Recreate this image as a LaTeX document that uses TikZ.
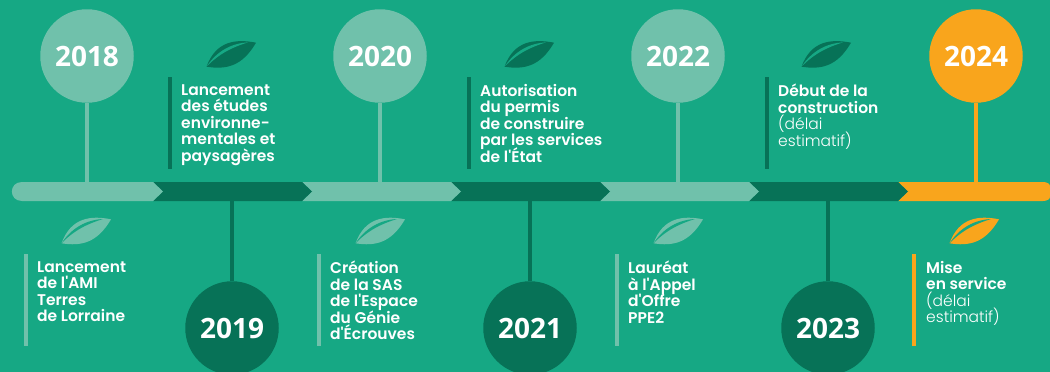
\documentclass[tikz,border=0pt]{standalone}
\usepackage{fontspec}
\setmainfont{Poppins}
\newfontfamily\semib{Poppins SemiBold}
\newfontfamily\lightf{Poppins Light}
\newfontfamily\yearf{Open Sans}
\definecolor{bgc}{HTML}{16A884}
\definecolor{darkc}{HTML}{077257}
\definecolor{lightc}{HTML}{70C1AB}
\definecolor{orangec}{HTML}{F9A51C}
\newcommand{\lt}[1]{{\lightf #1}}
\newcommand{\lablfont}{\semib\fontsize{15.5}{16.5}\selectfont\lineskiplimit=-20pt\relax}
\tikzset{
  x=1pt,y=-1pt,
  year/.style={circle,minimum size=93.5pt,inner sep=0,text=white,font=\yearf\bfseries\fontsize{28}{32}\selectfont},
  stem/.style={line width=4pt},
  label/.style={anchor=north west,inner sep=0,text=white,align=left,font=\lablfont},
  rule/.style={line width=4pt},
  pics/leaf/.style={code={
    \fill[#1] (0,0) .. controls (-20,-4) and (-40,-2) .. (-49.5,24)
      .. controls (-30,27) and (-14,24) .. (0,0) -- cycle;
    \fill[bgc] (-49.5,24) .. controls (-39,8) and (-24,0.5) .. (-8,-0.3)
      .. controls (-22,4) and (-36,10) .. (-49.5,24) -- cycle;
  }}
}
\begin{document}
\begin{tikzpicture}
\useasboundingbox (0,0) rectangle (1050,372);
\fill[bgc] (0,0) rectangle (1050,372);
% bar
\fill[orangec] (898,182) -- (1043,182) .. controls (1047,182) and (1050,184) .. (1050,186) -- (1050,197) .. controls (1050,199) and (1047,201) .. (1043,201) -- (898,201) -- (908,191.5) -- cycle;
\foreach \a/\b/\c in {749/898/darkc,600/749/lightc,451/600/darkc,302/451/lightc,153/302/darkc}{
  \fill[\c] (\a,182) -- (\b,182) -- (\b+10,191.5) -- (\b,201) -- (\a,201) -- (\a+10,191.5) -- cycle;
}
\fill[lightc] (22,182) -- (153,182) -- (163,191.5) -- (153,201) -- (22,201) .. controls (8.5,201) and (8.5,182) .. (22,182) -- cycle;
\coordinate (bartop) at (0,183);
\coordinate (barbot) at (0,200);
% circles
\node[year,fill=lightc] (y18) at (87,56) {2018};
\node[year,fill=darkc]  (y19) at (232,328) {2019};
\node[year,fill=lightc] (y20) at (380,56) {2020};
\node[year,fill=darkc]  (y21) at (530,328) {2021};
\node[year,fill=lightc] (y22) at (678,56) {2022};
\node[year,fill=darkc]  (y23) at (828,328) {2023};
\node[year,fill=orangec] (y24) at (976,56) {2024};
% stems
\draw[stem,lightc] (y18.south) -- (y18.south |- bartop);
\draw[stem,lightc] (y20.south) -- (y20.south |- bartop);
\draw[stem,lightc] (y22.south) -- (y22.south |- bartop);
\draw[stem,orangec] (y24.south) -- (y24.south |- bartop);
\draw[stem,darkc] (y19.north) -- (y19.north |- barbot);
\draw[stem,darkc] (y21.north) -- (y21.north |- barbot);
\draw[stem,darkc] (y23.north) -- (y23.north |- barbot);
% leaves
\pic at (111,219.3) {leaf=lightc};
\pic at (405,219.3) {leaf=lightc};
\pic at (703,219.3) {leaf=lightc};
\pic at (999,219.3) {leaf=orangec};
\pic at (256,42.7) {leaf=darkc};
\pic at (554,42.7) {leaf=darkc};
\pic at (851,42.7) {leaf=darkc};
% rules
\draw[rule,darkc] (170,77) -- (170,169);
\draw[rule,darkc] (469,77) -- (469,169);
\draw[rule,darkc] (767,77) -- (767,169);
\draw[rule,lightc] (26,254) -- (26,346);
\draw[rule,lightc] (319,254) -- (319,346);
\draw[rule,lightc] (617,254) -- (617,346);
\draw[rule,orangec] (914,254) -- (914,346);
% labels
\node[label] (t1) at (181,84) {Lancement\\des études\\environne-\\mentales et\\paysagères};
\node[label] (t2) at (480,84) {Autorisation\\du permis\\de construire\\par les services\\de l'État};
\node[label] (t3) at (778,84) {Début de la\\construction\\\lt{(délai}\\\lt{estimatif)}};
\node[label] (b1) at (37,261) {Lancement\\de l'AMI\\Terres\\de Lorraine};
\node[label] (b2) at (330,261) {Création\\de la SAS\\de l'Espace\\du Génie\\d'Écrouves};
\node[label] (b3) at (628,261) {Lauréat\\à l'Appel\\d'Offre\\PPE2};
\node[label] (b4) at (926,261) {Mise\\en service\\\lt{(délai}\\\lt{estimatif)}};
\end{tikzpicture}
\end{document}
